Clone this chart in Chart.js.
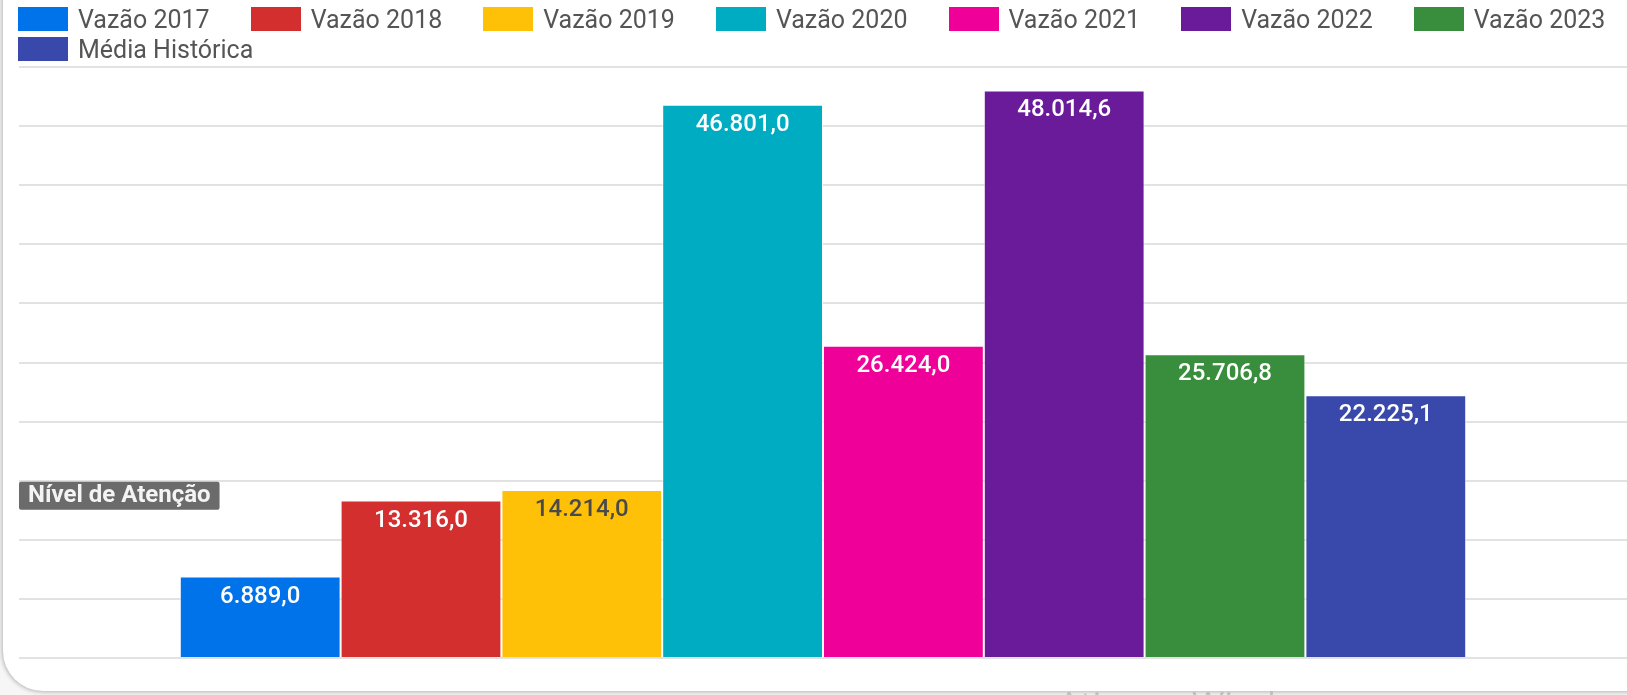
<!DOCTYPE html>
<html lang="pt-BR">
<head>
<meta charset="utf-8">
<title>Vazão</title>
<script src="https://cdn.jsdelivr.net/npm/chart.js@4.4.0/dist/chart.umd.min.js"></script>
<style>
    html, body {
        margin: 0;
        padding: 0;
        width: 1627px;
        height: 695px;
        overflow: hidden;
        background: #f6f6f6;
        font-family: Roboto, "Noto Sans", sans-serif;
    }
    .card {
        position: absolute;
        left: 3px;
        top: -40px;
        width: 1700px;
        height: 731px;
        background: #fff;
        border-radius: 40px;
        box-shadow: 0 0 4px 1px rgba(0, 0, 0, 0.28);
    }
    #chart-wrap {
        position: absolute;
        left: 0;
        top: 0;
        width: 1627px;
        height: 695px;
    }
    #legend {
        position: absolute;
        left: 18px;
        top: 7px;
        width: 1609px;
        display: flex;
        flex-wrap: wrap;
        column-gap: 41px;
        row-gap: 6px;
    }
    .legend-item {
        display: flex;
        align-items: center;
        height: 24px;
        font-size: 25px;
        color: #555;
        white-space: nowrap;
    }
    .legend-box {
        width: 50px;
        height: 24px;
        margin-right: 10px;
    }
    .watermark {
        position: absolute;
        left: 1058px;
        top: 686px;
        font-family: "Open Sans", sans-serif;
        font-size: 35px;
        line-height: 1;
        color: rgba(185, 185, 185, 0.85);
        white-space: nowrap;
    }
</style>
</head>
<body>
<div class="card"></div>
<div id="chart-wrap"><canvas id="vazao-chart"></canvas></div>
<div id="legend"></div>
<div class="watermark">Ativar o Windows</div>

<script>
// data
const categories = ['Vazão'];
const seriesLabels = ['Vazão 2017', 'Vazão 2018', 'Vazão 2019', 'Vazão 2020', 'Vazão 2021', 'Vazão 2022', 'Vazão 2023', 'Média Histórica'];
const seriesValues = [6889.0, 13316.0, 14214.0, 46801.0, 26424.0, 48014.6, 25706.8, 22225.1];
const seriesColors = ['#0073ea', '#d32f2f', '#ffc107', '#00acc1', '#ee0099', '#6a1b9a', '#388e3c', '#3949ab'];
const valueLabelColors = ['#fff', '#fff', '#4a4a4a', '#fff', '#fff', '#fff', '#fff', '#fff'];
const yMin = 0;
const yMax = 50000;
const yStep = 5000;
const attentionLevel = 15000;
const attentionText = 'Nível de Atenção';

// 46801 -> "46.801,0"
function formatBR(v) {
    const parts = v.toFixed(1).split('.');
    return parts[0].replace(/\B(?=(\d{3})+(?!\d))/g, '.') + ',' + parts[1];
}

const datasets = seriesLabels.map((label, i) => ({
    label: label,
    data: [seriesValues[i]],
    backgroundColor: seriesColors[i],
    borderColor: 'rgba(255, 255, 255, 0.6)',
    borderWidth: 1,
    borderSkipped: 'bottom',
    barPercentage: 1.0,
    categoryPercentage: 0.8
}));

// value labels inside the top of each bar
const valueLabels = {
    id: 'valueLabels',
    afterDatasetsDraw(chart) {
        const ctx = chart.ctx;
        ctx.save();
        ctx.font = '500 24px Roboto, "Noto Sans", sans-serif';
        ctx.textAlign = 'center';
        ctx.textBaseline = 'middle';
        chart.data.datasets.forEach((ds, i) => {
            const bar = chart.getDatasetMeta(i).data[0];
            ctx.fillStyle = valueLabelColors[i];
            ctx.fillText(formatBR(ds.data[0]), bar.x, bar.y + 20);
        });
        ctx.restore();
    }
};

// grey tag at the attention level
const attentionTag = {
    id: 'attentionTag',
    afterDraw(chart) {
        const ctx = chart.ctx;
        const y = chart.scales.y.getPixelForValue(attentionLevel);
        const x = chart.chartArea.left;
        ctx.save();
        ctx.font = 'bold 24px Roboto, "Noto Sans", sans-serif';
        const w = ctx.measureText(attentionText).width + 18;
        ctx.fillStyle = '#6b6b6b';
        ctx.beginPath();
        ctx.roundRect(x, y + 1, w, 28, 2);
        ctx.fill();
        ctx.fillStyle = '#f4f4f4';
        ctx.textBaseline = 'middle';
        ctx.fillText(attentionText, x + 9, y + 15);
        ctx.restore();
    }
};

// html legend, left aligned like the original
const htmlLegend = {
    id: 'htmlLegend',
    afterUpdate(chart) {
        const box = document.getElementById('legend');
        box.innerHTML = '';
        chart.data.datasets.forEach(ds => {
            const item = document.createElement('div');
            item.className = 'legend-item';
            const swatch = document.createElement('span');
            swatch.className = 'legend-box';
            swatch.style.background = ds.backgroundColor;
            const text = document.createElement('span');
            text.textContent = ds.label;
            item.appendChild(swatch);
            item.appendChild(text);
            box.appendChild(item);
        });
    }
};

const ctx = document.getElementById('vazao-chart').getContext('2d');
new Chart(ctx, {
    type: 'bar',
    data: {
        labels: categories,
        datasets: datasets
    },
    options: {
        responsive: true,
        maintainAspectRatio: false,
        animation: false,
        layout: {
            padding: { left: 19, right: 0, top: 67, bottom: 37 }
        },
        plugins: {
            legend: { display: false },
            tooltip: { enabled: false }
        },
        scales: {
            x: { display: false },
            y: {
                min: yMin,
                max: yMax,
                ticks: { display: false, stepSize: yStep },
                border: { display: false },
                grid: { color: '#e2e2e2', lineWidth: 2, drawTicks: false }
            }
        }
    },
    plugins: [valueLabels, attentionTag, htmlLegend]
});
</script>
</body>
</html>
